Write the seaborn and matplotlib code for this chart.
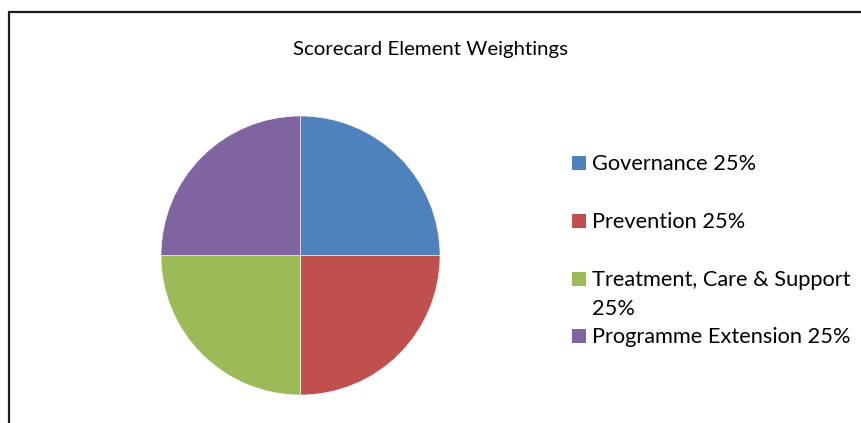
import matplotlib
matplotlib.use("Agg")
import matplotlib.pyplot as plt
import seaborn as sns
from matplotlib.lines import Line2D
from matplotlib.patches import Rectangle

# ---- data ----
categories = ["Governance", "Prevention", "Treatment, Care & Support", "Programme Extension"]
weights = [25, 25, 25, 25]
legend_labels = ["Governance 25%", "Prevention 25%", "Treatment, Care & Support\n25%", "Programme Extension 25%"]
colors = ["#4F81BD", "#C0504D", "#9BBB59", "#8064A2"]
title = "Scorecard Element Weightings"

sns.set_theme(style="white")
plt.rcParams["font.family"] = ["Lato", "DejaVu Sans"]

W, H = 861, 423
fig = plt.figure(figsize=(W / 100, H / 100), dpi=100)
fig.patch.set_facecolor("white")

def fx(px):
    return px / W

def fy(py):
    return 1 - py / H

# pie axes
cx, cy, r = 300.5, 255.5, 139.5
ax = fig.add_axes([fx(cx - r), fy(cy + r), 2 * r / W, 2 * r / H])
palette = sns.color_palette(colors)
ax.pie(weights, colors=palette, startangle=90, counterclock=False, radius=1,
       wedgeprops=dict(edgecolor="white", linewidth=0.4))
ax.set_xlim(-1, 1)
ax.set_ylim(-1, 1)
ax.set_aspect("equal")
ax.axis("off")

# chart frame (left and top edges visible in the crop)
fig.add_artist(Line2D([fx(9), fx(9)], [fy(12.5), 0], transform=fig.transFigure, color="#1a1a1a", lw=1.6))
fig.add_artist(Line2D([fx(9), 1], [fy(12.5), fy(12.5)], transform=fig.transFigure, color="#1a1a1a", lw=1.6))

# title
fig.text(0.5, fy(55.5), title, ha="center", va="baseline", fontsize=14.7, color="black")

# legend
legend_fs = 15.7
baselines = [170, 228, 286, 343]
for lab, col, base in zip(legend_labels, palette, baselines):
    fig.add_artist(Rectangle((fx(572), fy(base)), 14 / W, 14 / H, transform=fig.transFigure,
                             facecolor=col, edgecolor="none"))
    for i, ln in enumerate(lab.split("\n")):
        fig.text(fx(592), fy(base + 29 * i), ln, ha="left", va="baseline",
                 fontsize=legend_fs, color="black")

fig.savefig("out.png", dpi=100, facecolor="white")
